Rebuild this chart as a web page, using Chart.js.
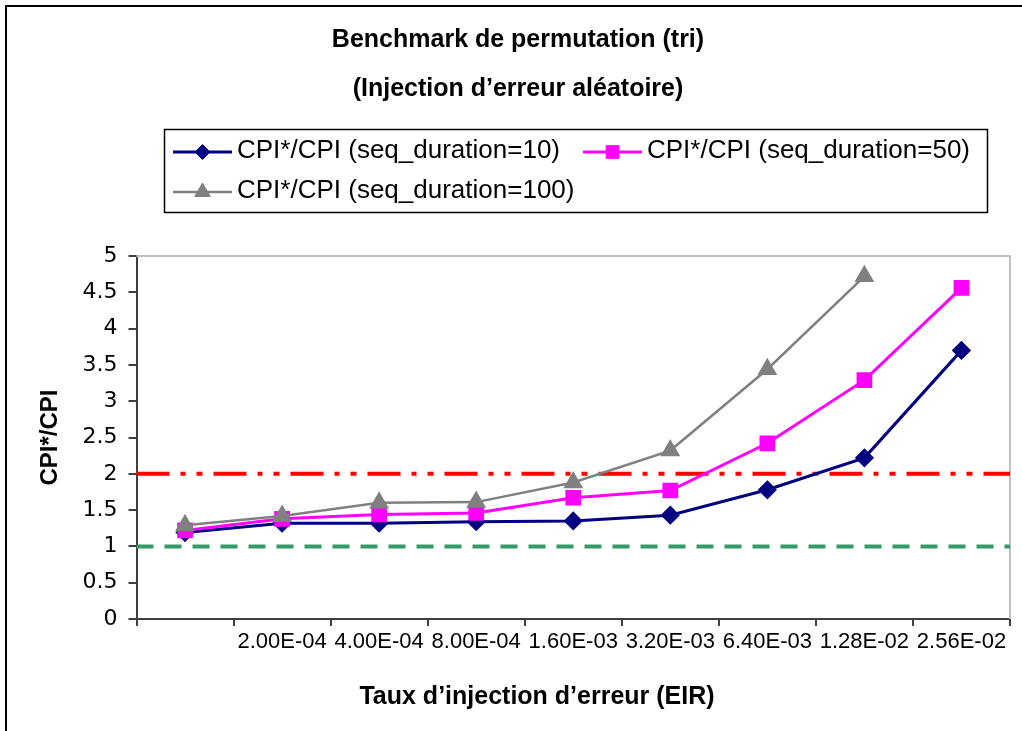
<!DOCTYPE html>
<html>
<head>
<meta charset="utf-8">
<script src="https://cdn.jsdelivr.net/npm/chart.js@4.4.0/dist/chart.umd.min.js"></script>
<style>
  html, body { margin: 0; padding: 0; background: #fff; }
</style>
</head>
<body>
<canvas id="myChart" width="1022" height="731"></canvas>
<script>
// taux d'injection (first category has no label in the original)
const categories = ['', '2.00E-04', '4.00E-04', '8.00E-04', '1.60E-03', '3.20E-03', '6.40E-03', '1.28E-02', '2.56E-02'];
const seq10 = [1.19, 1.32, 1.32, 1.34, 1.35, 1.43, 1.78, 2.22, 3.70];
const seq50 = [1.22, 1.38, 1.44, 1.46, 1.67, 1.77, 2.42, 3.29, 4.56];
const seq100 = [1.29, 1.42, 1.60, 1.61, 1.88, 2.32, 3.44, 4.72, null];
const yTickValues = [0, 0.5, 1, 1.5, 2, 2.5, 3, 3.5, 4, 4.5, 5];
const limitHigh = 2;   // red dash-dot
const limitLow = 1;    // green dashed

const SANS = '"Liberation Sans", Arial, sans-serif';

const decor = {
  id: 'decor',
  beforeDraw(chart) {
    const ctx = chart.ctx;
    ctx.save();
    ctx.fillStyle = '#fff';
    ctx.fillRect(0, 0, chart.width, chart.height);
    ctx.strokeStyle = '#000';
    ctx.lineWidth = 2;
    ctx.strokeRect(6, 6, chart.width + 20, chart.height + 20);
    ctx.restore();
  },
  beforeDatasetsDraw(chart) {
    const {ctx, chartArea: a, scales: {y}} = chart;
    ctx.save();
    ctx.strokeStyle = '#c0c0c0';
    ctx.lineWidth = 2;
    ctx.beginPath();
    ctx.moveTo(a.left, a.top);
    ctx.lineTo(a.right, a.top);
    ctx.lineTo(a.right, a.bottom);
    ctx.stroke();

    ctx.lineWidth = 4;
    ctx.strokeStyle = '#ff0000';
    ctx.setLineDash([33, 11, 5, 11, 6, 11]);
    let py = y.getPixelForValue(limitHigh);
    ctx.beginPath();
    ctx.moveTo(a.left, py);
    ctx.lineTo(a.right, py);
    ctx.stroke();

    ctx.strokeStyle = '#339966';
    ctx.setLineDash([17, 11]);
    py = y.getPixelForValue(limitLow);
    ctx.beginPath();
    ctx.moveTo(a.left, py);
    ctx.lineTo(a.right, py);
    ctx.stroke();
    ctx.restore();
  },
  afterDraw(chart) {
    const ctx = chart.ctx;
    ctx.save();
    // x axis title, centred like the original (not on the plot area)
    ctx.fillStyle = '#000';
    ctx.font = 'bold 25px ' + SANS;
    ctx.textAlign = 'center';
    ctx.textBaseline = 'middle';
    ctx.fillText('Taux d\u2019injection d\u2019erreur (EIR)', 537, 697);

    // legend box
    ctx.strokeStyle = '#000';
    ctx.lineWidth = 1.5;
    ctx.strokeRect(164.5, 129.5, 823, 83);
    const spots = [[173, 152], [583, 152], [173, 192]];
    ctx.font = '26px ' + SANS;
    ctx.textAlign = 'left';
    chart.data.datasets.forEach((ds, i) => {
      const [x, yy] = spots[i];
      ctx.setLineDash([]);
      ctx.strokeStyle = ds.borderColor;
      ctx.lineWidth = ds.borderWidth;
      ctx.beginPath();
      ctx.moveTo(x, yy);
      ctx.lineTo(x + 59, yy);
      ctx.stroke();
      ctx.fillStyle = ds.pointBackgroundColor;
      ctx.lineWidth = 1;
      Chart.helpers.drawPoint(ctx, {pointStyle: ds.pointStyle, radius: ds.pointRadius, rotation: 0, borderWidth: 1}, x + 29.5, yy);
      ctx.fillStyle = '#000';
      ctx.fillText(ds.label, x + 64, yy - 1);
    });
    ctx.restore();
  }
};

const ctx = document.getElementById('myChart');

new Chart(ctx, {
  type: 'line',
  data: {
    labels: categories,
    datasets: [{
      label: 'CPI*/CPI (seq_duration=10)',
      data: seq10,
      borderColor: '#000080',
      backgroundColor: '#000080',
      pointBackgroundColor: '#000080',
      borderWidth: 3,
      pointStyle: 'rectRot',
      pointRadius: 7.5,
      order: 3
    }, {
      label: 'CPI*/CPI (seq_duration=50)',
      data: seq50,
      borderColor: '#ff00ff',
      backgroundColor: '#ff00ff',
      pointBackgroundColor: '#ff00ff',
      borderWidth: 3,
      pointStyle: 'rect',
      pointRadius: 9,
      order: 2
    }, {
      label: 'CPI*/CPI (seq_duration=100)',
      data: seq100,
      borderColor: '#808080',
      backgroundColor: '#808080',
      pointBackgroundColor: '#808080',
      borderWidth: 2.5,
      pointStyle: 'triangle',
      pointRadius: 9,
      order: 1
    }]
  },
  options: {
    responsive: false,
    animation: false,
    devicePixelRatio: 1,
    layout: { padding: { left: 22, right: 8, top: 0, bottom: 0 } },
    plugins: {
      legend: { display: false },
      tooltip: { enabled: false },
      title: {
        display: true,
        text: ['Benchmark de permutation (tri)', '(Injection d\u2019erreur al\u00e9atoire)'],
        color: '#000',
        font: { family: SANS, size: 25, weight: 'bold', lineHeight: 49 / 25 },
        padding: { top: 15.5, bottom: 142.5 }
      }
    },
    scales: {
      x: {
        offset: true,
        grid: { offset: true, drawOnChartArea: false, tickLength: 7, color: '#404040', lineWidth: 2 },
        border: { color: '#404040', width: 2 },
        ticks: { color: '#000', font: { family: SANS, size: 22 }, padding: 3, maxRotation: 0, autoSkip: false },
        afterFit: s => { s.height = 112; }
      },
      y: {
        min: 0,
        max: 5,
        afterBuildTicks: s => { s.ticks = yTickValues.map(v => ({ value: v })); },
        grid: { drawOnChartArea: false, tickLength: 8, color: '#404040', lineWidth: 2 },
        border: { color: '#404040', width: 2 },
        ticks: {
          color: '#000',
          font: { family: '"DejaVu Sans", sans-serif', size: 22 },
          padding: 11,
          callback: v => String(v)
        },
        title: {
          display: true,
          text: 'CPI*/CPI',
          color: '#000',
          font: { family: SANS, size: 24, weight: 'bold' },
          padding: { top: 13.6, bottom: 0 }
        },
        afterFit: s => { s.width = 114.5; }
      }
    }
  },
  plugins: [decor]
});
</script>
</body>
</html>
